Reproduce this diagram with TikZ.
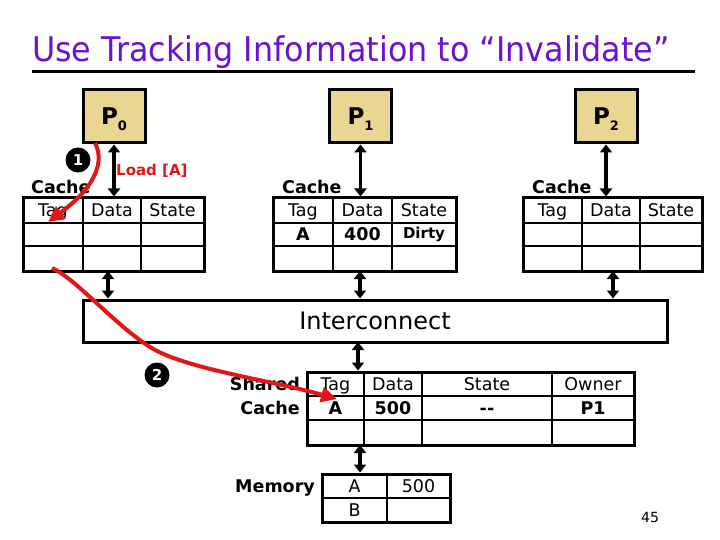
\documentclass[tikz,border=0pt]{standalone}
\usepackage{fontspec}
\setmainfont{DejaVu Sans}
\usetikzlibrary{arrows.meta}
\definecolor{titlepurple}{RGB}{108,16,210}
\definecolor{ptan}{RGB}{233,214,146}
\definecolor{redarrow}{RGB}{226,22,22}
\begin{document}
\begin{tikzpicture}[x=1pt,y=-1pt,
  proc/.style={draw,line width=3pt,fill=ptan,minimum width=62pt,minimum height=53pt,inner sep=0pt,
    text height=16.8pt,text depth=0pt,font=\bfseries\fontsize{23}{23}\selectfont},
  tbl/.style={draw,line width=3pt,inner sep=0pt},
  gridline/.style={line width=2.5pt},
  hdr/.style={font=\fontsize{17.5}{18}\selectfont,inner sep=0pt,text height=12.8pt,text depth=0pt},
  val/.style={font=\bfseries\fontsize{17.5}{18}\selectfont,inner sep=0pt,text height=12.8pt,text depth=0pt},
  lbl/.style={font=\bfseries\fontsize{17.5}{18}\selectfont,inner sep=0pt},
  dbl/.style={line width=3.5pt,{Triangle[length=8pt,width=12pt]}-{Triangle[length=8pt,width=12pt]}},
  redarr/.style={draw=redarrow,line width=4pt,-{Triangle[length=16pt,width=15pt]}},
  stepnum/.style={circle,fill=black,text=white,minimum size=25pt,inner sep=0pt,font=\bfseries\fontsize{15}{15}\selectfont}
]
\useasboundingbox (0,0) rectangle (720,540);
\fill[white] (0,0) rectangle (720,540);

% title
\node[anchor=base west,inner sep=0pt,text=titlepurple] (title) at (32,62)
  {\scalebox{0.934}[1]{\fontsize{34}{34}\selectfont Use Tracking Information to “Invalidate”}};
\coordinate (tl) at (32,72);
\coordinate (tr) at (695,72);
\draw[line width=3pt] (tl) -- (tr);

% processors
\newcommand{\proclabel}[1]{P\raisebox{-6pt}{\fontsize{13}{13}\selectfont\bfseries #1}}
\node[proc] (p0) at (114,116.5) {\proclabel{0}};
\node[proc] (p1) at (360.5,116.5) {\proclabel{1}};
\node[proc] (p2) at (606,116.5) {\proclabel{2}};

% cache P0
\node[tbl,minimum width=181pt,minimum height=73pt] (c0) at (113.5,234.5) {};
\draw[gridline] (23,223) -- (204,223) (23,246) -- (204,246) (83,198) -- (83,271) (141,198) -- (141,271);
\node[lbl,anchor=base west] (c0l) at (31,194) {Cache};
\node[hdr] (c0t) at (53,210.5) {Tag};
\node[hdr] (c0d) at (112,210.5) {Data};
\node[hdr] (c0s) at (172.5,210.5) {State};

% cache P1
\node[tbl,minimum width=183pt,minimum height=73pt] (c1) at (364.5,234.5) {};
\draw[gridline] (273,223) -- (456,223) (273,246) -- (456,246) (333,198) -- (333,271) (392,198) -- (392,271);
\node[lbl,anchor=base west] (c1l) at (282,194) {Cache};
\node[hdr] (c1t) at (303,210.5) {Tag};
\node[hdr] (c1d) at (362.5,210.5) {Data};
\node[hdr] (c1s) at (424,210.5) {State};
\node[val] (c1a) at (303,234.5) {A};
\node[val] (c1v) at (362.5,234.5) {400};
\node[val,font=\bfseries\fontsize{15}{15}\selectfont,text height=11pt] (c1st) at (424,233.5) {Dirty};

% cache P2
\node[tbl,minimum width=179pt,minimum height=73pt] (c2) at (612.5,234.5) {};
\draw[gridline] (523,223) -- (702,223) (523,246) -- (702,246) (582,198) -- (582,271) (640,198) -- (640,271);
\node[lbl,anchor=base west] (c2l) at (532,194) {Cache};
\node[hdr] (c2t) at (552.5,210.5) {Tag};
\node[hdr] (c2d) at (611,210.5) {Data};
\node[hdr] (c2s) at (671,210.5) {State};

% interconnect
\node[tbl,minimum width=584pt,minimum height=42pt,font=\fontsize{24}{24}\selectfont,text height=17.5pt,text depth=0pt] (ic) at (375,321) {Interconnect};

% shared cache
\node[tbl,minimum width=327pt,minimum height=73pt] (sc) at (470.5,408.5) {};
\draw[gridline] (307,396) -- (634,396) (307,420) -- (634,420) (364,372) -- (364,445) (422,372) -- (422,445) (552,372) -- (552,445);
\node[lbl,anchor=east,text height=12.8pt,text depth=0pt] (scl1) at (300,384) {Shared};
\node[lbl,anchor=east,text height=12.8pt,text depth=0pt] (scl2) at (300,408) {Cache};
\node[hdr] (sct) at (335.5,384) {Tag};
\node[hdr] (scd) at (393,384) {Data};
\node[hdr] (scs) at (487,384) {State};
\node[hdr] (sco) at (593,384) {Owner};
\node[val] (sca) at (335.5,408) {A};
\node[val] (scv) at (393,408) {500};
\node[val] (scst) at (487,408) {-{}-};
\node[val] (scow) at (593,408) {P1};

% memory
\node[tbl,minimum width=128pt,minimum height=48pt] (mem) at (386,498) {};
\draw[gridline] (322,498) -- (450,498) (387,474) -- (387,522);
\node[lbl,anchor=base east] (meml) at (315,492.4) {Memory};
\node[hdr] (mema) at (354.5,486) {A};
\node[hdr] (memv) at (418.5,486) {500};
\node[hdr] (memb) at (354.5,510) {B};

% black double arrows
\draw[dbl] (p0.south) -- (p0.south |- c0.north);
\draw[dbl] (p1.south) -- (p1.south |- c1.north);
\draw[dbl] (p2.south) -- (p2.south |- c2.north);
\coordinate (c0b) at (108,271);
\coordinate (c1b) at (360,271);
\coordinate (c2b) at (613,271);
\draw[dbl] (c0b) -- (c0b |- ic.north);
\draw[dbl] (c1b) -- (c1b |- ic.north);
\draw[dbl] (c2b) -- (c2b |- ic.north);
\coordinate (icb) at (358,342);
\draw[dbl] (icb) -- (icb |- sc.north);
\coordinate (scb) at (360,445);
\draw[dbl] (scb) -- (scb |- mem.north);

% step markers
\node[stepnum] (s1) at (78,160) {1};
\node[stepnum] (s2) at (157,375) {2};
\node[anchor=west,inner sep=0pt,text=redarrow,font=\bfseries\fontsize{15}{15}\selectfont] (load) at (116,171) {Load [A]};

% red arrows
\coordinate (r1s) at (95,143);
\coordinate (r1e) at (48,222);
\draw[redarr] (r1s) .. controls (104,160) and (98,185) .. (r1e);
\coordinate (r2s) at (52,268);
\coordinate (r2m) at (150,347);
\coordinate (r2e) at (337,399);
\draw[redarr] (r2s) .. controls (75,278) and (115,325) .. (r2m) .. controls (185,369) and (270,380) .. (r2e);

% page number
\node[inner sep=0pt,font=\fontsize{14}{14}\selectfont] (pg) at (650,517) {45};
\end{tikzpicture}
\end{document}
